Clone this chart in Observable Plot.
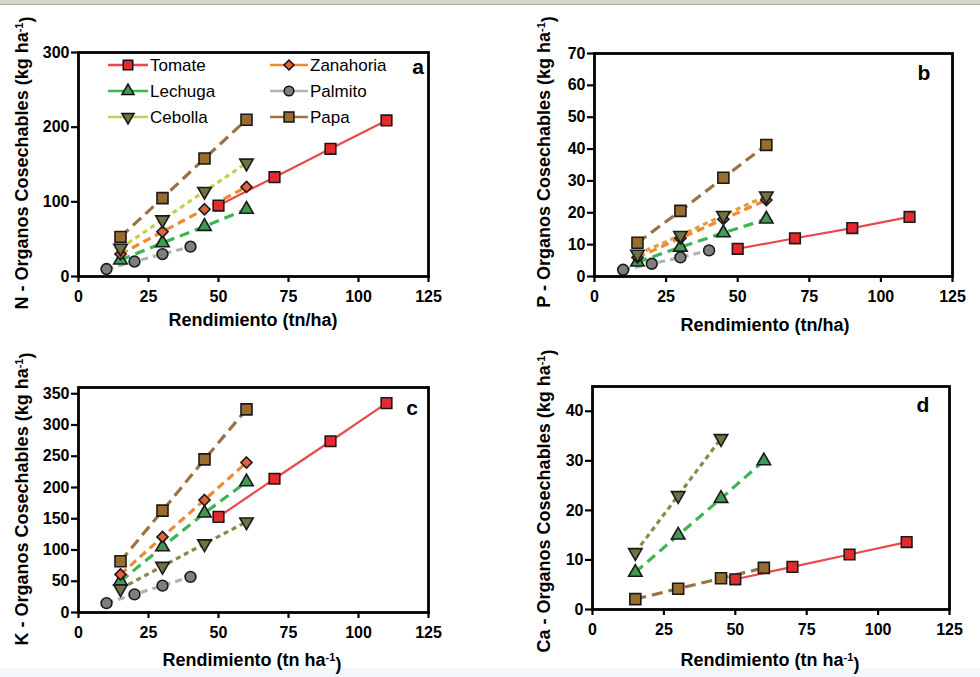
<!DOCTYPE html>
<html><head><meta charset="utf-8">
<script src="https://cdn.jsdelivr.net/npm/d3@7"></script>
<script src="https://cdn.jsdelivr.net/npm/@observablehq/plot@0.6"></script>
<style>
body{margin:0;background:#fff;width:980px;height:677px;position:relative;overflow:hidden;font-family:"Liberation Sans",Arial,sans-serif}
#topbar{position:absolute;left:0;top:0;width:980px;height:4px;background:#d6d6ca;border-bottom:1px solid #a9a99a}
#botbar{position:absolute;left:0;top:668px;width:980px;height:9px;background:#f3f7f9}
.panel{position:absolute}
.panel svg{overflow:visible}
</style></head><body>
<div id="topbar"></div><div id="botbar"></div>
<div id="pa" class="panel" style="left:0;top:0"></div>
<div id="pb" class="panel" style="left:490px;top:0"></div>
<div id="pc" class="panel" style="left:0;top:340px"></div>
<div id="pd" class="panel" style="left:490px;top:340px"></div>
<script>
// ---- data ----
const cultivos = ["Tomate","Zanahoria","Lechuga","Palmito","Cebolla","Papa"];
const rendTomate = [50,70,90,110];
const rendHortaliza = [15,30,45,60];
const rendPalmito = [10,20,30,40];
const rendimientos = [rendTomate, rendHortaliza, rendHortaliza, rendPalmito, rendHortaliza, rendHortaliza];
// values in the order of cultivos
const nitrogeno = [[95,133,171,209],[30,60,90,120],[22,45,67,90],[10,20,30,40],[38,76,114,152],[53,105,158,210]];
const fosforo   = [[8.7,12,15.2,18.7],[6,12,18,24],[4.5,9.2,13.7,18],[2.1,4,6,8.2],[7,12.9,19.2,25.3],[10.6,20.6,31,41.3]];
const potasio   = [[153,214,274,335],[61,121,180,240],[50,105,159,209],[15,29,43,57],[38,74,110,145],[82,163,245,325]];
const calcio    = [[6.1,8.6,11.1,13.6],[],[7.5,15,22.4,30],[],[11.5,23,34.5],[2.1,4.2,6.3,8.4]];
const ticksX = [0,25,50,75,100,125];
const ticksN = [0,100,200,300];
const ticksP = [0,10,20,30,40,50,60,70];
const ticksK = [0,50,100,150,200,250,300,350];
const ticksCa = [0,10,20,30,40];

// ---- styles ----
const lineColor = ["#e84a4c","#f08a32","#3db554","#b3b3b3","#c9cd4c","#9b7343"];
const markColor = ["#e52a2e","#e2633a","#3f9b51","#7f7f7f","#6f7243","#9a6d2e"];
const dashes = [null,"8,5","10,6","7,5","5,4","11,6"];
const symbols = ["square","diamond2","triangle","circle","triangle","square"];
const radii = [6,5,5,5.4,5,6.2];
const rotations = [0,0,0,0,180,0];

const W = 490;
function panel(el, cfg) {
  const marks = [];
  const sets = cultivos.map((c,i)=> cfg.values[i].map((v,j)=>({cultivo:c, x:rendimientos[i][j], y:v})));
  const order = [3,2,1,4,5,0];
  order.forEach(i=>{
    if(!sets[i].length) return;
    marks.push(Plot.line(sets[i],{x:"x",y:"y",stroke:(cfg.lineColors||lineColor)[i],strokeWidth:i===0?2.2:3.2,strokeDasharray:dashes[i],strokeLinecap:"butt"}));
  });
  order.forEach(i=>{
    if(!sets[i].length) return;
    marks.push(Plot.dot(sets[i],{x:"x",y:"y",symbol:symbols[i],r:radii[i],fill:markColor[i],stroke:"#1a1a1a",strokeWidth:1.6,rotate:rotations[i],fillOpacity:1}));
  });
  marks.push(Plot.frame({stroke:"#000",strokeWidth:2.8}));
  marks.push(Plot.axisX({ticks:ticksX,tickSize:6,tickPadding:8,strokeWidth:2.2,label:null,tickFormat:d=>d}));
  marks.push(Plot.axisY({ticks:cfg.ticksY,tickSize:7,tickPadding:2,strokeWidth:2.2,label:null,tickFormat:d=>d}));
  const svg = Plot.plot({
    width:W, height:cfg.height,
    marginLeft:cfg.ml, marginRight:cfg.mr, marginTop:cfg.mt, marginBottom:cfg.mb,
    x:{domain:[0,125]}, y:{domain:cfg.yDomain},
    style:{fontFamily:'"Liberation Sans",Arial,sans-serif',fontSize:"16px",fontWeight:"bold",color:"#000",background:"transparent"},
    marks
  });
  document.getElementById(el).appendChild(svg);
  const s = d3.select(svg);
  // x title
  const xt = s.append("text").attr("x",cfg.xtX).attr("y",cfg.xtY).attr("text-anchor","middle")
    .style("font","bold 18px 'Liberation Sans',Arial,sans-serif");
  if (cfg.xSup) {
    xt.append("tspan").text("Rendimiento (tn ha");
    xt.append("tspan").attr("dy","-0.5em").style("font-size","11px").text("-1");
    xt.append("tspan").attr("dy","0.5em").text(")");
  } else xt.text("Rendimiento (tn/ha)");
  // y title
  const yt = s.append("text").attr("transform",`translate(${cfg.ytX},${cfg.ytY}) rotate(-90)`).attr("text-anchor","middle")
    .style("font","bold 18px 'Liberation Sans',Arial,sans-serif");
  yt.append("tspan").text(cfg.yTitle + " - Organos Cosechables (kg ha");
  yt.append("tspan").attr("dy","-0.5em").style("font-size","11px").text("-1");
  yt.append("tspan").attr("dy","0.5em").text(")");
  // panel letter
  s.append("text").attr("x",cfg.letterX).attr("y",cfg.letterY).attr("text-anchor","middle")
    .style("font","bold 21px 'Liberation Sans',Arial,sans-serif").text(cfg.letter);
  return s;
}

const sa = panel("pa",{values:nitrogeno,ticksY:ticksN,yDomain:[0,300],height:340,ml:78,mr:62,mt:52,mb:64,
  xtX:253,xtY:326,ytX:28,ytY:163,yTitle:"N",letter:"a",letterX:418,letterY:74});
const lcB = lineColor.slice(); lcB[4] = "#dba244";
panel("pb",{values:fosforo,ticksY:ticksP,yDomain:[0,70],height:340,ml:104,mr:28,mt:53,mb:64,lineColors:lcB,
  xtX:275,xtY:331,ytX:60,ytY:162,yTitle:"P",letter:"b",letterX:434,letterY:80});
const lcCD = lineColor.slice(); lcCD[4] = "#8a8a4e";
panel("pc",{values:potasio,ticksY:ticksK,yDomain:[0,360],height:337,ml:78,mr:62,mt:47,mb:65,lineColors:lcCD,xSup:true,
  xtX:252,xtY:326,ytX:28,ytY:159,yTitle:"K",letter:"c",letterX:412,letterY:75});
panel("pd",{values:calcio,ticksY:ticksCa,yDomain:[0,45],height:337,ml:102,mr:31,mt:46,mb:68,lineColors:lcCD,xSup:true,
  xtX:280,xtY:326,ytX:60,ytY:161,yTitle:"Ca",letter:"d",letterX:433,letterY:72});

// legend in panel a
const legCols = [{x1:108,x2:148,xm:128,xt:150},{x1:270,x2:308,xm:289,xt:310}];
const legRows = [65,91,117];
const symType = {square:d3.symbolSquare,diamond2:d3.symbolDiamond2,triangle:d3.symbolTriangle,circle:d3.symbolCircle};
const lg = sa.append("g");
cultivos.forEach((c,i)=>{
  const col = legCols[i%2], y = legRows[Math.floor(i/2)];
  lg.append("line").attr("x1",col.x1).attr("x2",col.x2).attr("y1",y).attr("y2",y).attr("stroke",lineColor[i]).attr("stroke-width",2.5);
  lg.append("path").attr("d",d3.symbol(symType[symbols[i]], Math.PI*radii[i]*radii[i]*0.8)())
    .attr("transform",`translate(${col.xm},${y}) rotate(${rotations[i]})`).attr("fill",markColor[i]).attr("stroke","#111").attr("stroke-width",1.5);
  lg.append("text").attr("x",col.xt).attr("y",y).attr("dy","0.36em").attr("text-anchor","start")
    .style("font","normal 17px 'Liberation Sans',Arial,sans-serif").text(c);
});
</script>
</body></html>
